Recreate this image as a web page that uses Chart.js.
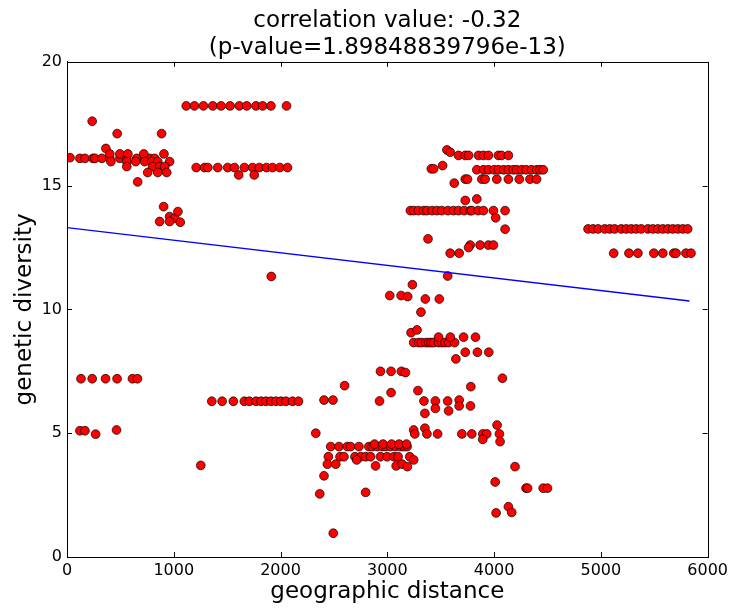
<!DOCTYPE html>
<html>
<head>
<meta charset="utf-8">
<title>correlation value</title>
<script src="https://cdn.jsdelivr.net/npm/chart.js@4.4.1/dist/chart.umd.min.js"></script>
<style>
  body { margin: 0; background: #fff; }
  canvas { display: block; }
</style>
</head>
<body>
<canvas id="scatterChart" width="732" height="610"></canvas>
<script>
// points, band by band (distance, diversity)
const geoDistance = [
  28, 236, 470, 886, 364,
  121, 168, 243, 262, 327, 401, 495, 560, 653, 728, 775, 821,
  401, 495, 570, 719, 908,
  411, 560, 644, 728, 794, 850, 961,
  560, 802, 868, 915,
  756, 850, 934, 662,
  905, 961, 1008, 1039, 868, 961, 1061,
  1117, 1194, 1278, 1365, 1443, 1527, 1614, 1683, 1770, 1832, 1910, 2056,
  1210, 1288, 1319, 1412, 1505, 1568, 1661, 1738, 1801, 1869, 1925, 1994, 2065,
  1608, 1754, 1913,
  131, 236, 361, 469, 613, 660,
  121, 168, 268, 464, 1253,
  1356, 1453, 1558, 1661, 1708, 1770, 1817, 1863, 1910, 1957, 2003, 2050, 2112, 2168,
  2407, 2491, 2330, 2407,
  2936, 3035, 3132, 3170, 2600, 3035, 2927, 3287, 3782, 4078,
  3343, 3450, 3565, 3673, 3779, 3450, 3574, 3673, 3352,
  3247, 3257, 3352, 3371, 3471,
  3698, 3791, 3894, 3931, 3894, 4028, 4050, 4056,
  2470, 2547, 2625, 2656, 2734, 2827, 2858, 2905, 2952, 2983, 3029, 3076, 3123, 3154, 3185,
  2880, 2960, 3040, 3110, 3180,
  2448, 2557, 2594, 2697, 2750, 2797, 2843, 2936, 2998, 3061, 3101, 3210,
  2713, 3247, 2439, 2517, 2890, 3083, 3139, 3188,
  2367, 2797, 2494, 4010, 4019, 4196, 4134, 4165,
  4299, 4314, 4460, 4500,
  3565, 3235, 3023, 3129, 3191, 3356, 3487, 3315, 3222, 3278,
  3247, 3294, 3320, 3360, 3387, 3410, 3434, 3480, 3511, 3540, 3574, 3630,
  3480, 3590, 3714, 3826, 3642, 3730, 3844, 3950,
  3558, 3589,
  3667, 3730, 3761, 3854, 3900, 3947, 4040, 4070, 4134,
  3412, 3434, 3518,
  3838, 3900, 3947, 4000, 4040, 4090, 4134, 4180, 4211, 4258, 4300, 4351, 4400, 4429, 4460,
  3730, 3751, 3885, 3916, 4025, 4134, 4236, 4336, 4398, 3627,
  3730, 3838,
  3216, 3247, 3290, 3340, 3371, 3420, 3465, 3510, 3567, 3620, 3667, 3720, 3776, 3791, 3850, 3900, 3994, 4103,
  4015, 4103, 3381,
  3776, 3869, 3947, 3994, 3761, 3589, 3673,
  4880, 4927, 4974, 5036, 5083, 5129, 5191, 5238, 5285, 5331, 5378, 5440, 5486, 5533, 5580, 5627, 5673, 5720, 5767, 5813,
  5120, 5263, 5347, 5496, 5580, 5683, 5704, 5797, 5844
];
const geneticDiversity = [
  16.13, 17.6, 17.1, 17.1, 16.5,
  16.1, 16.1, 16.1, 16.1, 16.1, 16.1, 16.1, 16.1, 16.1, 16.1, 16.1, 16.1,
  16.28, 16.28, 16.28, 16.28, 16.28,
  15.97, 15.97, 15.97, 15.97, 15.97, 15.97, 15.97,
  15.77, 15.77, 15.77, 15.77,
  15.53, 15.53, 15.53, 15.15,
  14.15, 13.75, 13.68, 13.95, 13.55, 13.55, 13.52,
  18.22, 18.22, 18.22, 18.22, 18.22, 18.22, 18.22, 18.22, 18.22, 18.22, 18.22, 18.22,
  15.73, 15.73, 15.73, 15.73, 15.73, 15.73, 15.73, 15.73, 15.73, 15.73, 15.73, 15.73, 15.73,
  15.43, 15.43, 11.33,
  7.2, 7.2, 7.2, 7.2, 7.2, 7.2,
  5.1, 5.1, 4.96, 5.13, 3.7,
  6.29, 6.29, 6.29, 6.29, 6.29, 6.29, 6.29, 6.29, 6.29, 6.29, 6.29, 6.29, 6.29, 6.29,
  6.34, 6.34, 5.0, 3.28,
  7.5, 7.5, 7.5, 7.45, 6.92, 6.64, 6.3, 6.72, 6.88, 7.22,
  6.3, 6.3, 6.3, 6.34, 6.1, 6.0, 5.9, 6.1, 5.8,
  5.13, 4.97, 5.2, 4.97, 4.97,
  4.97, 4.97, 4.97, 4.97, 4.75, 5.33, 4.97, 4.66,
  4.46, 4.46, 4.46, 4.46, 4.46, 4.46, 4.46, 4.46, 4.46, 4.46, 4.46, 4.46, 4.46, 4.46, 4.46,
  4.56, 4.56, 4.56, 4.56, 4.56,
  4.05, 4.05, 4.05, 4.05, 4.05, 4.05, 4.05, 4.05, 4.05, 4.05, 4.05, 4.05,
  3.92, 3.92, 3.75, 3.75, 3.68, 3.68, 3.75, 3.65,
  2.55, 2.61, 0.96, 3.03, 1.78, 3.65, 2.03, 1.8,
  2.78, 2.78, 2.78, 2.78,
  11.35, 11.0, 10.56, 10.56, 10.52, 10.42, 10.42, 9.89, 9.06, 9.17,
  8.66, 8.66, 8.66, 8.66, 8.66, 8.66, 8.66, 8.66, 8.66, 8.66, 8.66, 8.66,
  8.88, 8.88, 8.88, 8.88, 8.0, 8.27, 8.27, 8.27,
  16.44, 16.35,
  16.22, 16.22, 16.22, 16.22, 16.22, 16.22, 16.22, 16.22, 16.22,
  15.68, 15.68, 15.81,
  15.64, 15.64, 15.64, 15.64, 15.64, 15.64, 15.64, 15.64, 15.64, 15.64, 15.64, 15.64, 15.64, 15.64, 15.64,
  15.26, 15.26, 15.26, 15.26, 15.26, 15.26, 15.26, 15.26, 15.26, 15.1,
  14.4, 14.46,
  13.99, 13.99, 13.99, 13.99, 13.99, 13.99, 13.99, 13.99, 13.99, 13.99, 13.99, 13.99, 13.99, 13.99, 13.99, 13.99, 13.99, 13.99,
  13.7, 13.24, 12.85,
  12.6, 12.6, 12.6, 12.6, 12.5, 12.27, 12.27,
  13.25, 13.25, 13.25, 13.25, 13.25, 13.25, 13.25, 13.25, 13.25, 13.25, 13.25, 13.25, 13.25, 13.25, 13.25, 13.25, 13.25, 13.25, 13.25, 13.25,
  12.27, 12.27, 12.27, 12.27, 12.27, 12.27, 12.27, 12.27, 12.27
];

// fitted line end points
const fitX = [0, 5830];
const fitY = [13.3, 10.34];

const xTicks = [0, 1000, 2000, 3000, 4000, 5000, 6000];
const yTicks = [0, 5, 10, 15, 20];

const titleLines = ['correlation value: -0.32', '(p-value=1.89848839796e-13)'];

const points = geoDistance.map((d, i) => ({x: d, y: geneticDiversity[i]}));
const fitLine = fitX.map((d, i) => ({x: d, y: fitY[i]}));

const font = 'DejaVu Sans';

// matplotlib style box with ticks pointing inward
const frameTicks = {
  id: 'frameTicks',
  afterDraw(chart) {
    const ctx = chart.ctx;
    const a = chart.chartArea;
    const xs = chart.scales.x, ys = chart.scales.y;
    const len = 5;
    ctx.save();
    ctx.strokeStyle = '#000';
    ctx.lineWidth = 1;
    ctx.beginPath();
    xs.ticks.forEach(t => {
      const px = Math.round(xs.getPixelForValue(t.value)) + 0.5;
      ctx.moveTo(px, a.bottom); ctx.lineTo(px, a.bottom - len);
      ctx.moveTo(px, a.top); ctx.lineTo(px, a.top + len);
    });
    ys.ticks.forEach(t => {
      const py = Math.round(ys.getPixelForValue(t.value)) + 0.5;
      ctx.moveTo(a.left, py); ctx.lineTo(a.left + len, py);
      ctx.moveTo(a.right, py); ctx.lineTo(a.right - len, py);
    });
    ctx.stroke();
    ctx.strokeRect(Math.round(a.left) + 0.5, Math.round(a.top) + 0.5,
      Math.round(a.right - a.left), Math.round(a.bottom - a.top));
    ctx.restore();
  }
};

const config = {
  type: 'scatter',
  data: {
    datasets: [
      {
        type: 'line',
        data: fitLine,
        borderColor: '#0000ff',
        borderWidth: 1.3,
        pointRadius: 0,
        fill: false,
        tension: 0
      },
      {
        data: points,
        backgroundColor: '#ff0000',
        borderColor: '#000000',
        borderWidth: 0.7,
        pointRadius: 4.4
      }
    ]
  },
  options: {
    responsive: false,
    animation: false,
    layout: { padding: { left: 0, right: 22, top: 0, bottom: 0 } },
    plugins: {
      legend: { display: false },
      tooltip: { enabled: false },
      title: {
        display: true,
        fullSize: false,
        text: titleLines,
        color: '#000',
        font: { family: font, size: 23, weight: 'normal', lineHeight: 1.17 },
        padding: { top: 8, bottom: 0 }
      }
    },
    scales: {
      x: {
        type: 'linear',
        min: 0,
        max: 6000,
        afterFit: s => { s.height = 53; },
        afterBuildTicks: s => { s.ticks = xTicks.map(v => ({value: v})); },
        grid: { display: false, drawTicks: false },
        border: { display: true, color: '#000' },
        ticks: { color: '#000', padding: 4, font: { family: font, size: 16 }, callback: v => String(v) },
        title: {
          display: true,
          text: 'geographic distance',
          color: '#000',
          font: { family: font, size: 23 },
          padding: { top: 0, bottom: 4 }
        }
      },
      y: {
        type: 'linear',
        min: 0,
        max: 20,
        afterFit: s => { s.width = 67; },
        afterBuildTicks: s => { s.ticks = yTicks.map(v => ({value: v})); },
        grid: { display: false, drawTicks: false },
        border: { display: true, color: '#000' },
        ticks: { color: '#000', padding: 5, font: { family: font, size: 16 }, callback: v => String(v) },
        title: {
          display: true,
          text: 'genetic diversity',
          color: '#000',
          font: { family: font, size: 23 },
          padding: { top: 11, bottom: 0 }
        }
      }
    }
  },
  plugins: [frameTicks]
};

const ctx = document.getElementById('scatterChart').getContext('2d');
const scatterChart = new Chart(ctx, config);
</script>
</body>
</html>
